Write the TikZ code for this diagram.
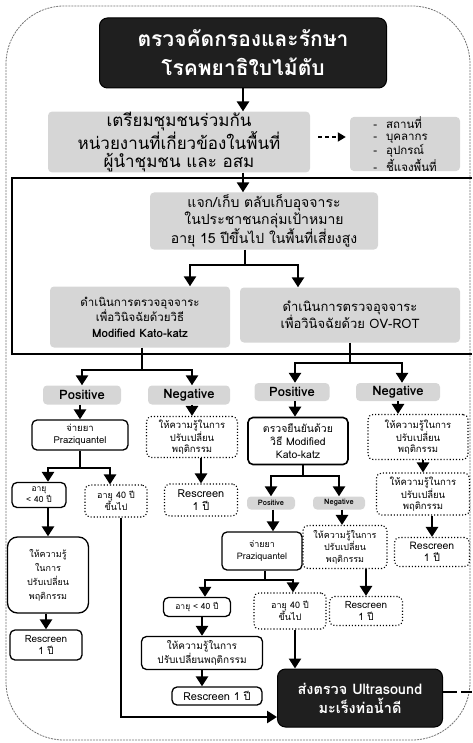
\documentclass[tikz,border=0pt]{standalone}
\usepackage{fontspec}
\setmainfont{Loma}[Script=Thai]
\usetikzlibrary{arrows.meta}
\tikzset{
  arr/.style={draw, line width=2.7pt, -{Triangle[width=12pt,length=10pt]}},
  ln/.style={draw, line width=2.7pt},
  darr/.style={draw, line width=1.8pt, dash pattern=on 4pt off 3pt, -{Triangle[width=9pt,length=8pt]}},
  base/.style={inner sep=0pt, align=center, text=black},
  gbox/.style={base, fill=black!16, rounded corners=4pt},
  sbox/.style={base, draw, line width=1.3pt, fill=white, rounded corners=5pt},
  dbox/.style={base, draw, dotted, line width=1.1pt, fill=white, rounded corners=5pt},
  bbox/.style={base, fill=black!88, draw=black, line width=1pt, text=white, rounded corners=8pt, font=\bfseries},
  fs/.style 2 args={font=\fontsize{#1}{#2}\selectfont},
  fb/.style 2 args={font=\fontsize{#1}{#2}\selectfont\bfseries},
}
\begin{document}
\begin{tikzpicture}[x=1pt,y=-1pt]
\useasboundingbox (0,0) rectangle (472,743);
% outer border
\draw[black!55, line width=0.8pt, dash pattern=on 2pt off 1pt, rounded corners=58pt] (6,6) rectangle (470,740);
% thick frame
\draw[line width=2.7pt] (472,178) -- (12,178) -- (12,354) -- (472,354);

% top part
\node[bbox, fb={21}{29}, minimum width=287pt, minimum height=70pt] (title) at (243,53) {ตรวจคัดกรองและรักษา\\โรคพยาธิใบไม้ตับ};
\node[gbox, fs={17}{18.5}, minimum width=262pt, minimum height=60pt] (prep) at (179,142) {เตรียมชุมชนร่วมกัน\\หน่วยงานที่เกี่ยวข้องในพื้นที่\\ผู้นำชุมชน และ อสม};
\node[gbox, fs={11.5}{12}, minimum width=110pt, minimum height=54pt, align=left] (list) at (405,144) {-\hspace{9pt}สถานที่\\-\hspace{9pt}บุคลากร\\-\hspace{9pt}อุปกรณ์\\-\hspace{9pt}ชี้แจงพื้นที่};
\node[gbox, fs={14}{17}, minimum width=228pt, minimum height=57pt] (dist) at (264,221) {แจก/เก็บ ตลับเก็บอุจจาระ\\ในประชาชนกลุ่มเป้าหมาย\\อายุ 15 ปีขึ้นไป ในพื้นที่เสี่ยงสูง};
\node[gbox, fs={11.5}{15.5}, minimum width=180pt, minimum height=61pt] (kato) at (140,317) {ดำเนินการตรวจอุจจาระ\\เพื่อวินิจฉัยด้วยวิธี\\\textbf{Modified Kato-katz}};
\node[gbox, fs={13}{17}, minimum width=220pt, minimum height=55pt] (ovrot) at (350,315) {ดำเนินการตรวจอุจจาระ\\เพื่อวินิจฉัยด้วย OV-ROT};

% result labels
\node[gbox, fb={13}{13}, minimum width=78pt, minimum height=19pt] (pos1) at (82,395) {Positive};
\node[gbox, fb={13}{13}, minimum width=82pt, minimum height=19pt] (neg1) at (189,395) {Negative};
\node[gbox, fb={13}{13}, minimum width=75pt, minimum height=18pt] (pos2) at (292,392) {Positive};
\node[gbox, fb={13}{13}, minimum width=84pt, minimum height=18pt] (neg2) at (398,392) {Negative};

% column 1
\node[sbox, fs={9.5}{12}, minimum width=96pt, minimum height=30pt] (prz1) at (80,435) {จ่ายยา\\Praziquantel};
\node[dbox, fs={9.5}{11.5}, minimum width=91pt, minimum height=41pt] (nedu1) at (192,437) {ให้ความรู้ในการ\\ปรับเปลี่ยน\\พฤติกรรม};
\node[sbox, fs={8.5}{11}, minimum width=54pt, minimum height=25pt] (age1) at (39,495) {อายุ\\< 40 ปี};
\node[dbox, fs={9}{12}, minimum width=62pt, minimum height=32pt] (age40a) at (116,501) {อายุ 40 ปี\\ขึ้นไป};
\node[dbox, fs={11}{13}, minimum width=73pt, minimum height=32pt] (resc1) at (201,500) {Rescreen\\1 ปี};
\node[sbox, fs={9}{14}, minimum width=81pt, minimum height=76pt, rounded corners=10pt] (edu1) at (48,575) {ให้ความรู้\\ในการ\\ปรับเปลี่ยน\\พฤติกรรม};
\node[sbox, fs={10}{12}, minimum width=72pt, minimum height=30pt] (rsc1) at (46,645) {Rescreen\\1 ปี};

% column 3/4
\node[sbox, fs={10.5}{13}, minimum width=100pt, minimum height=47pt, line width=1.6pt] (conf) at (298,441) {ตรวจยืนยันด้วย\\วิธี Modified\\Kato-katz};
\node[dbox, fs={9.5}{11.5}, minimum width=100pt, minimum height=45pt] (nedR1) at (418,437) {ให้ความรู้ในการ\\ปรับเปลี่ยน\\พฤติกรรม};
\node[dbox, fs={9.5}{11.5}, minimum width=93pt, minimum height=42pt] (nedR2) at (423,494) {ให้ความรู้ในการ\\ปรับเปลี่ยน\\พฤติกรรม};
\node[dbox, fs={10.5}{12.5}, minimum width=75pt, minimum height=29pt] (rscR) at (432,552) {Rescreen\\1 ปี};
\node[gbox, fb={7.5}{8}, minimum width=48pt, minimum height=13pt] (spos) at (271,503) {Positive};
\node[gbox, fb={7.5}{8}, minimum width=52pt, minimum height=13pt] (sneg) at (339,503) {Negative};
\node[sbox, fs={9}{12}, minimum width=80pt, minimum height=38pt] (prz2) at (262,551) {จ่ายยา\\Praziquantel};
\node[dbox, fs={9}{11.5}, minimum width=84pt, minimum height=43pt] (nedM) at (345,547) {ให้ความรู้ในการ\\ปรับเปลี่ยน\\พฤติกรรม};
\node[sbox, fs={8.5}{10}, minimum width=67pt, minimum height=19pt] (age2) at (197,607) {อายุ < 40 ปี};
\node[dbox, fs={9}{12}, minimum width=72pt, minimum height=36pt] (age40b) at (290,611) {อายุ 40 ปี\\ขึ้นไป};
\node[dbox, fs={10}{12}, minimum width=73pt, minimum height=29pt] (rscM) at (366,611) {Rescreen\\1 ปี};
\node[sbox, fs={10}{12.5}, minimum width=121pt, minimum height=33pt] (edu2) at (202,653) {ให้ความรู้ในการ\\ปรับเปลี่ยนพฤติกรรม};
\node[sbox, fs={11}{11}, minimum width=90pt, minimum height=18pt] (rsc2) at (217,696) {Rescreen 1 ปี};
\node[bbox, fb={14.5}{19}, minimum width=165pt, minimum height=58pt] (us) at (360,698) {ส่งตรวจ Ultrasound\\มะเร็งท่อน้ำดี};

% junctions
\coordinate (j0) at (245,265);
\coordinate (j1) at (142,370);
\coordinate (j2) at (350,363);
\coordinate (j3) at (80,468);
\coordinate (j4) at (303,476);
\coordinate (j5) at (265,580);
\coordinate (usR) at (472,692);

% connectors
\draw[arr] (title.south) -- (title.south |- prep.north);
\draw[arr] (prep.south -| title.south) -- (dist.north -| title.south);
\draw[darr] ([xshift=8pt,yshift=5pt]prep.east) -- ([xshift=-4pt,yshift=7pt]list.west);
\draw[ln] (dist.south -| j0) -- (j0);
\draw[arr] (j0) -| ([xshift=50pt]kato.north);
\draw[arr] (j0) -| ([xshift=-52pt]ovrot.north);
\draw[ln] (kato.south -| j1) -- (j1);
\draw[arr] (j1) -| (pos1.north);
\draw[arr] (j1) -| ([xshift=3pt]neg1.north);
\draw[ln] (ovrot.south -| j2) -- (j2);
\draw[arr] (j2) -| ([xshift=3pt]pos2.north);
\draw[arr] (j2) -| ([xshift=4pt]neg2.north);

\draw[arr] (pos1.south -| prz1.north) -- (prz1.north);
\draw[arr] (neg1.south -| nedu1.north) -- (nedu1.north);
\draw[ln] (prz1.south) -- (j3);
\draw[arr] (j3) -| ([xshift=9pt]age1.north);
\draw[arr] (j3) -| ([xshift=-6pt]age40a.north);
\draw[arr] (nedu1.south -| resc1.north) -- (resc1.north);
\draw[arr] (age1.south -| edu1.north) -- (edu1.north);
\draw[arr] (edu1.south -| rsc1.north) -- (rsc1.north);
\draw[arr] ([xshift=5pt]age40a.south) |- ([yshift=-19pt]us.west);

\draw[arr] ([xshift=3pt]pos2.south) -- ([xshift=3pt]pos2.south |- conf.north);
\draw[arr] (neg2.south) -- (neg2.south |- nedR1.north);
\draw[arr] (nedR1.south -| nedR2.north) -- (nedR2.north);
\draw[arr] (nedR2.south -| rscR.north) -- (rscR.north);
\draw[ln] (conf.south -| j4) -- (j4);
\draw[arr] (j4) -| (spos.north);
\draw[arr] (j4) -| (sneg.north);
\draw[arr] ([xshift=2pt]spos.south) -- ([xshift=2pt]spos.south |- prz2.north);
\draw[arr] ([xshift=3pt]sneg.south) -- ([xshift=3pt]sneg.south |- nedM.north);
\draw[ln] (prz2.south -| j5) -- (j5);
\draw[arr] (j5) -| ([xshift=8pt]age2.north);
\draw[arr] (j5) -| ([xshift=3pt]age40b.north);
\draw[arr] (nedM.south -| rscM.north) -- (rscM.north);
\draw[arr] (age2.south -| edu2.north) -- (edu2.north);
\draw[arr] (edu2.south) -- (edu2.south |- rsc2.north);
\draw[arr] ([xshift=5pt]age40b.south) -- ([xshift=5pt]age40b.south |- us.north);
\draw[line width=2pt, dash pattern=on 14pt off 4pt] ([yshift=6pt]us.east) -- (usR);
\end{tikzpicture}
\end{document}
